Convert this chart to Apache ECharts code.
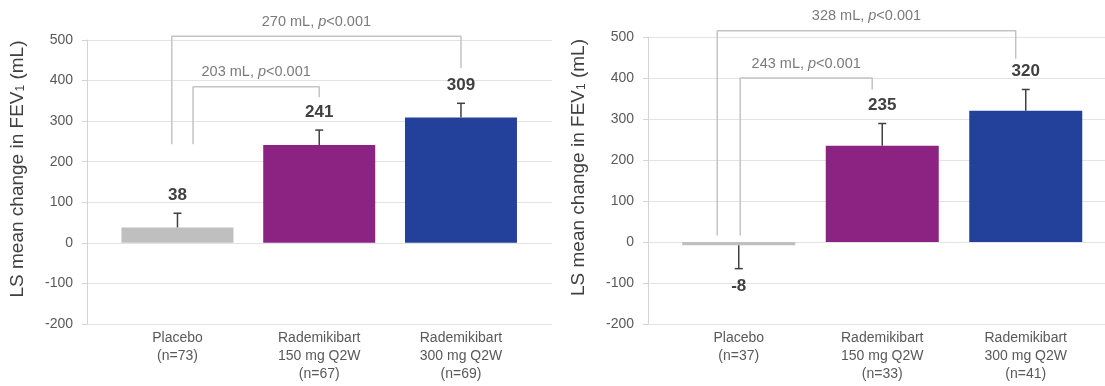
<!DOCTYPE html>
<html><head><meta charset="utf-8">
<script src="https://cdn.jsdelivr.net/npm/echarts@6/dist/echarts.min.js"></script>
<style>html,body{margin:0;padding:0;background:#fff}#c{width:1105px;height:386px}</style>
</head><body><div id="c"></div>
<script>
// ---- data ----
const categoryNames = ['Placebo', 'Rademikibart\n150 mg Q2W', 'Rademikibart\n300 mg Q2W'];
const leftN = [73, 67, 69];
const rightN = [37, 33, 41];
const leftValues = [38, 241, 309];
const rightValues = [-8, 235, 320];
const leftErrors = [35, 37, 35];
const rightErrors = [57, 54, 52];
const yTicks = [-200, -100, 0, 100, 200, 300, 400, 500];
const leftDiffs = ['270 mL', '203 mL'];
const rightDiffs = ['328 mL', '243 mL'];
const leftP = ['<0.001', '<0.001'];
const rightP = ['<0.001', '<0.001'];
const compareFrom = [0, 0];
const compareTo = [2, 1];

// ---- styles / layout ----
const barColors = ['#BFBFBF', '#8C2383', '#23409A'];
const FONT = '"Liberation Sans", Arial, sans-serif';
const leftBracketLayout = [
  {dx1: -0.04, dx2: 0.0, top: 509, b1: 243, b2: 431},
  {dx1: 0.11, dx2: 0.0, top: 385, b1: 243, b2: 359}
];
const rightBracketLayout = [
  {dx1: -0.15, dx2: -0.07, top: 515, b1: 16, b2: 447},
  {dx1: 0.01, dx2: -0.07, top: 400, b1: 16, b2: 372}
];

const catLabels = n => categoryNames.map((c, i) => c + '\n(n=' + n[i] + ')');

function gridAxisY(gi) {
  return {
    gridIndex: gi, type: 'value', min: yTicks[0], max: yTicks[yTicks.length - 1], interval: 100,
    axisLine: {show: true, lineStyle: {color: '#D4D4D4', width: 1}},
    axisTick: {show: true, length: 5, lineStyle: {color: '#D4D4D4'}},
    axisLabel: {fontSize: 14, color: '#595959', margin: 14, fontFamily: FONT},
    splitLine: {show: true, lineStyle: {color: '#E3E3E3', width: 1}},
    name: 'LS mean change in FEV{sub|1} (mL)',
    nameLocation: 'middle', nameRotate: 90, nameGap: 60,
    nameTextStyle: {fontSize: 19, color: '#404040', fontFamily: FONT, padding: [0, 0, 0, 26],
      rich: {sub: {fontSize: 12, color: '#404040', fontFamily: FONT, verticalAlign: 'bottom', padding: [6, 0, 0, 0]}}}
  };
}
function hiddenY(gi) {
  return {gridIndex: gi, type: 'value', min: yTicks[0], max: yTicks[yTicks.length - 1], show: false, splitLine: {show: false}};
}
function catX(gi, n) {
  return {
    gridIndex: gi, type: 'category', data: catLabels(n),
    axisLine: {show: false}, axisTick: {show: false},
    axisLabel: {interval: 0, fontSize: 14, lineHeight: 18, color: '#595959', margin: 5, fontFamily: FONT}
  };
}

function errSeries(xi, yi, values, errs) {
  return {
    type: 'custom', xAxisIndex: xi, yAxisIndex: yi, z: 5, silent: true,
    data: values.map((v, i) => [i, v, errs[i]]),
    renderItem: function (params, api) {
      const idx = api.value(0), v = api.value(1), e = api.value(2);
      const end = v >= 0 ? v + e : v - e;
      const p0 = api.coord([idx, v]);
      const p1 = api.coord([idx, end]);
      const dir = v >= 0 ? -1 : 1;
      const ls = {stroke: '#404040', lineWidth: 1.5};
      return {
        type: 'group', children: [
          {type: 'line', shape: {x1: p0[0], y1: p0[1], x2: p1[0], y2: p1[1]}, style: ls},
          {type: 'line', shape: {x1: p1[0] - 4, y1: p1[1], x2: p1[0] + 4, y2: p1[1]}, style: ls},
          {type: 'text', style: {text: String(v), x: p1[0], y: p1[1] + dir * 18,
            align: 'center', verticalAlign: 'middle', textAlign: 'center', textVerticalAlign: 'middle',
            font: 'bold 17px ' + FONT, fill: '#404040'}}
        ]
      };
    }
  };
}

function bracketSeries(xi, yi, diffs, pvals, layout) {
  const out = [];
  diffs.forEach((d, k) => {
    const L = layout[k];
    const x1 = compareFrom[k] + L.dx1, x2 = compareTo[k] + L.dx2;
    out.push({
      type: 'line', xAxisIndex: xi, yAxisIndex: yi, clip: false, silent: true, symbol: 'none',
      lineStyle: {color: '#C4C4C4', width: 1.5}, z: 3,
      data: [[x1, L.b1], [x1, L.top], [x2, L.top], [x2, L.b2]]
    });
    out.push({
      type: 'scatter', xAxisIndex: xi, yAxisIndex: yi, clip: false, silent: true, symbolSize: 0,
      data: [[(x1 + x2) / 2, L.top]],
      label: {show: true, position: 'top', distance: 7,
        formatter: '{a|' + d + ', }{i|p}{a|' + pvals[k] + '}',
        rich: {a: {fontSize: 14.5, color: '#595959', fontFamily: FONT},
               i: {fontSize: 14.5, color: '#595959', fontStyle: 'italic', fontFamily: FONT}}}
    });
  });
  return out;
}

const gridBase = {outerBoundsMode: 'none', containLabel: false};
const chart = echarts.init(document.getElementById('c'), null, {renderer: 'canvas'});
chart.setOption({
  animation: false,
  backgroundColor: '#ffffff',
  textStyle: {fontFamily: FONT},
  grid: [
    Object.assign({left: 87, top: 40, width: 465, height: 284}, gridBase),
    Object.assign({left: 106.6, top: 40, width: 425.25, height: 284}, gridBase),
    Object.assign({left: 648, top: 37, width: 468, height: 287}, gridBase),
    Object.assign({left: 667, top: 37, width: 430.5, height: 287}, gridBase)
  ],
  xAxis: [
    {gridIndex: 0, type: 'value', min: 0, max: 1, show: false},
    catX(1, leftN),
    {gridIndex: 1, type: 'value', min: -0.5, max: 2.5, show: false},
    {gridIndex: 2, type: 'value', min: 0, max: 1, show: false},
    catX(3, rightN),
    {gridIndex: 3, type: 'value', min: -0.5, max: 2.5, show: false}
  ],
  yAxis: [gridAxisY(0), hiddenY(1), gridAxisY(2), hiddenY(3)],
  series: [
    {type: 'bar', xAxisIndex: 1, yAxisIndex: 1, barWidth: 112, silent: true,
     data: leftValues.map((v, i) => ({value: v, itemStyle: {color: barColors[i]}}))},
    errSeries(1, 1, leftValues, leftErrors),
    ...bracketSeries(2, 1, leftDiffs, leftP, leftBracketLayout),
    {type: 'bar', xAxisIndex: 4, yAxisIndex: 3, barWidth: 113, silent: true,
     data: rightValues.map((v, i) => ({value: v, itemStyle: {color: barColors[i]}}))},
    errSeries(4, 3, rightValues, rightErrors),
    ...bracketSeries(5, 3, rightDiffs, rightP, rightBracketLayout)
  ]
});
</script></body></html>
